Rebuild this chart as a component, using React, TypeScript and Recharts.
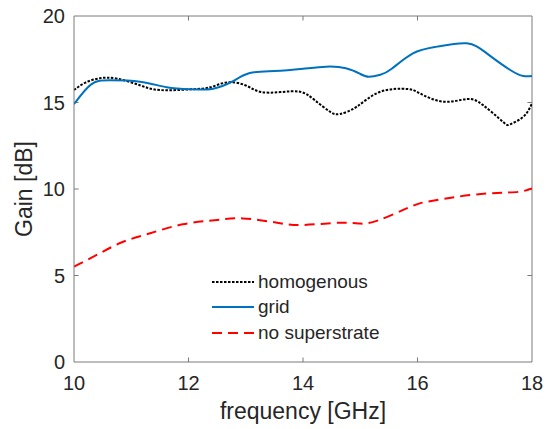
import React from 'react';
import { LineChart, Line, XAxis, YAxis, ReferenceLine, Label } from 'recharts';

const xTicks = [10, 12, 14, 16, 18];
const yTicks = [0, 5, 10, 15, 20];

const freqHomog = [10, 10.2, 10.45, 10.75, 11.15, 11.5, 12.03, 12.38, 12.67, 12.99, 13.25, 13.6, 13.95, 14.2, 14.47, 14.65, 14.94, 15.35, 15.82, 16.04, 16.45, 16.86, 17.14, 17.49, 17.62, 17.85, 18];
const gainHomog = [15.72, 16.15, 16.4, 16.38, 16.0, 15.72, 15.76, 15.88, 16.16, 16.0, 15.62, 15.6, 15.62, 15.15, 14.47, 14.34, 14.76, 15.62, 15.78, 15.53, 15.05, 15.2, 14.86, 13.89, 13.74, 14.18, 14.95];

const freqGrid = [10, 10.3, 10.63, 11.15, 11.62, 12.03, 12.43, 12.76, 13.07, 13.5, 14.0, 14.4, 14.75, 15.0, 15.15, 15.35, 15.55, 15.92, 16.34, 16.86, 17.21, 17.62, 17.85, 18];
const gainGrid = [14.9, 16.05, 16.28, 16.2, 15.88, 15.76, 15.8, 16.2, 16.7, 16.82, 16.95, 17.07, 16.98, 16.65, 16.49, 16.6, 16.95, 17.84, 18.23, 18.42, 17.84, 16.88, 16.53, 16.53];

const freqNone = [10, 10.45, 10.86, 11.33, 11.9, 12.5, 12.95, 13.55, 14, 14.65, 15, 15.3, 15.75, 16.04, 16.34, 16.92, 17.49, 17.8, 18];
const gainNone = [5.51, 6.28, 6.95, 7.44, 7.96, 8.21, 8.3, 8.05, 7.92, 8.05, 8.0, 8.17, 8.79, 9.17, 9.36, 9.65, 9.79, 9.85, 10.03];

const toData = (f: number[], g: number[]) => f.map((x, i) => ({ f: x, g: g[i] }));

const series = [
  { name: 'homogenous', data: toData(freqHomog, gainHomog), color: '#000000', dash: '2.5 1.5' },
  { name: 'grid', data: toData(freqGrid, gainGrid), color: '#0072BD', dash: undefined as string | undefined },
  { name: 'no superstrate', data: toData(freqNone, gainNone), color: '#FF0000', dash: '10 6' },
];

const AXIS = '#7a7a7a';
const TXT = '#262626';
const FONT = 'Liberation Sans, Arial, Helvetica, sans-serif';
const TX = 0.08; // tick length in GHz units
const TY = 0.26; // tick length in dB units

export default function App() {
  return (
    <div style={{ position: 'absolute', left: 0, top: 0, width: 555, height: 429, background: '#fff' }}>
      <LineChart width={555} height={429} margin={{ top: 16, right: 23, bottom: 0, left: 0 }}>
        <XAxis type="number" dataKey="f" domain={[10, 18]} ticks={xTicks} allowDataOverflow
          height={67} tickSize={0} tickMargin={14} stroke={AXIS}
          tick={{ fill: TXT, fontSize: 20, fontFamily: FONT }}>
          <Label value="frequency [GHz]" position="insideBottom" offset={10}
            style={{ fill: TXT, fontSize: 23, fontFamily: FONT }} />
        </XAxis>
        <YAxis type="number" domain={[0, 20]} ticks={yTicks} allowDataOverflow
          width={74} tickSize={0} tickMargin={9} stroke={AXIS}
          tick={{ fill: TXT, fontSize: 20, fontFamily: FONT }}>
          <Label content={(p: any) => {
            const vb = p.viewBox || {};
            const cx = 32;
            const cy = (vb.y ?? 16) + (vb.height ?? 346) / 2;
            return (
              <text x={cx} y={cy} transform={`rotate(-90 ${cx} ${cy})`} textAnchor="middle"
                style={{ fill: TXT, fontSize: 23, fontFamily: FONT }}>Gain [dB]</text>
            );
          }} />
        </YAxis>
        <ReferenceLine y={20} stroke={AXIS} />
        <ReferenceLine x={18} stroke={AXIS} />
        {xTicks.slice(1, -1).map((t) => (
          <ReferenceLine key={'xb' + t} segment={[{ x: t, y: 0 }, { x: t, y: TY }]} stroke={AXIS} />
        ))}
        {xTicks.slice(1, -1).map((t) => (
          <ReferenceLine key={'xt' + t} segment={[{ x: t, y: 20 }, { x: t, y: 20 - TY }]} stroke={AXIS} />
        ))}
        {yTicks.slice(1, -1).map((t) => (
          <ReferenceLine key={'yl' + t} segment={[{ x: 10, y: t }, { x: 10 + TX, y: t }]} stroke={AXIS} />
        ))}
        {yTicks.slice(1, -1).map((t) => (
          <ReferenceLine key={'yr' + t} segment={[{ x: 18, y: t }, { x: 18 - TX, y: t }]} stroke={AXIS} />
        ))}
        {series.map((s) => (
          <Line key={s.name} data={s.data} dataKey="g" name={s.name} type="natural" stroke={s.color}
            strokeWidth={2} strokeDasharray={s.dash} dot={false} activeDot={false} isAnimationActive={false} />
        ))}
      </LineChart>
      <div style={{ position: 'absolute', left: 210, top: 269, fontFamily: FONT, fontSize: 19, color: TXT }}>
        {series.map((s) => (
          <div key={s.name} style={{ display: 'flex', alignItems: 'center', height: 25.5 }}>
            <svg width={46} height={10} style={{ display: 'block' }}>
              <line x1={2} y1={5} x2={44} y2={5} stroke={s.color} strokeWidth={2} strokeDasharray={s.dash} />
            </svg>
            <span style={{ marginLeft: 2 }}>{s.name}</span>
          </div>
        ))}
      </div>
    </div>
  );
}
